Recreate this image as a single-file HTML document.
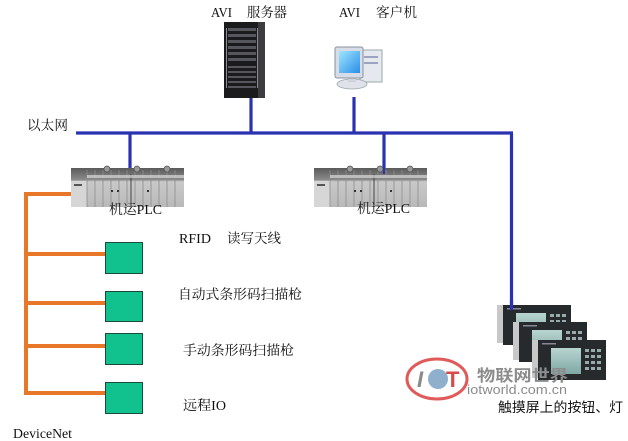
<!DOCTYPE html>
<html><head><meta charset="utf-8"><style>
html,body{margin:0;padding:0;background:#fff;}
svg{display:block;}
.t{font-family:"Liberation Serif","Noto Serif CJK SC",serif;font-size:13.5px;fill:#111;}
.s{font-family:"Liberation Sans","Noto Sans CJK SC",sans-serif;font-size:13.5px;fill:#111;}
</style></head><body>
<svg width="628" height="441" viewBox="0 0 628 441" xmlns="http://www.w3.org/2000/svg">
<defs>
<linearGradient id="plcg" x1="0" y1="0" x2="0" y2="1">
<stop offset="0" stop-color="#5a5a5a"/><stop offset="0.3" stop-color="#8a8a8a"/><stop offset="0.35" stop-color="#c9c9c9"/><stop offset="1" stop-color="#b9b9b9"/>
</linearGradient>
<linearGradient id="scr" x1="0" y1="0" x2="1" y2="1">
<stop offset="0" stop-color="#9fe6ff"/><stop offset="1" stop-color="#2a8ee8"/>
</linearGradient>
<linearGradient id="hmi" x1="0" y1="0" x2="0" y2="1">
<stop offset="0" stop-color="#b8d4d0"/><stop offset="1" stop-color="#7fa8a4"/>
</linearGradient>
<g id="plc">
<rect x="0" y="0" width="113" height="39" fill="url(#plcg)"/>
<rect x="0" y="13" width="16" height="26" fill="#d6d6d6"/>
<g stroke="#8d8d8d" stroke-width="0.8">
<line x1="16" y1="2" x2="16" y2="39"/><line x1="24" y1="2" x2="24" y2="39"/><line x1="32" y1="2" x2="32" y2="39"/>
<line x1="40" y1="2" x2="40" y2="39"/><line x1="48" y1="2" x2="48" y2="39"/><line x1="56" y1="2" x2="56" y2="39"/>
<line x1="64" y1="2" x2="64" y2="39"/><line x1="72" y1="2" x2="72" y2="39"/><line x1="80" y1="2" x2="80" y2="39"/>
<line x1="88" y1="2" x2="88" y2="39"/><line x1="96" y1="2" x2="96" y2="39"/><line x1="104" y1="2" x2="104" y2="39"/>
</g>
<line x1="60" y1="6" x2="60" y2="39" stroke="#444" stroke-width="1"/>
<rect x="16" y="7" width="97" height="3" fill="#e8e8e8" opacity="0.6"/>
<circle cx="36" cy="1" r="3" fill="#999" stroke="#555" stroke-width="0.8"/>
<circle cx="66" cy="1" r="3" fill="#999" stroke="#555" stroke-width="0.8"/>
<circle cx="96" cy="1" r="3" fill="#999" stroke="#555" stroke-width="0.8"/>
<rect x="40" y="22" width="2" height="2" fill="#333"/><rect x="46" y="22" width="2" height="2" fill="#333"/><rect x="76" y="22" width="2" height="2" fill="#333"/>
<rect x="3" y="16" width="8" height="2" fill="#555"/>
</g>
<g id="panel">
<rect x="0" y="0" width="6" height="38" fill="#c8c8c8"/>
<rect x="6" y="0" width="68" height="40" fill="#262a2c"/>
<rect x="19" y="8" width="30" height="26" fill="url(#hmi)"/>
<g fill="#9aa">
<rect x="53" y="9" width="4" height="3"/><rect x="59" y="9" width="4" height="3"/><rect x="65" y="9" width="4" height="3"/>
<rect x="53" y="15" width="4" height="3"/><rect x="59" y="15" width="4" height="3"/><rect x="65" y="15" width="4" height="3"/>
<rect x="53" y="21" width="4" height="3"/><rect x="59" y="21" width="4" height="3"/><rect x="65" y="21" width="4" height="3"/>
<rect x="53" y="27" width="4" height="3"/><rect x="59" y="27" width="4" height="3"/><rect x="65" y="27" width="4" height="3"/>
</g>
<rect x="10" y="3" width="14" height="1.5" fill="#889"/>
</g>
</defs>

<!-- Ethernet -->
<g stroke="#2b32b2" stroke-width="3.2" fill="none">
<line x1="76" y1="133" x2="513" y2="133"/>
<line x1="511.5" y1="133" x2="511.5" y2="308"/>
<line x1="251" y1="98" x2="251" y2="133"/>
<line x1="354" y1="97" x2="354" y2="133"/>
<line x1="130" y1="133" x2="130" y2="170"/>
<line x1="384" y1="133" x2="384" y2="170"/>
</g>

<!-- Server -->
<rect x="224" y="22" width="41" height="76" fill="#1b1b1d"/>
<rect x="258" y="22" width="7" height="76" fill="#3c3c40"/>
<g fill="#55575c">
<rect x="228" y="28" width="28" height="3"/><rect x="228" y="34" width="28" height="3"/><rect x="228" y="40" width="28" height="3"/>
<rect x="228" y="46" width="28" height="3"/><rect x="228" y="52" width="28" height="3"/><rect x="228" y="58" width="28" height="3"/>
<rect x="228" y="66" width="28" height="2"/><rect x="228" y="71" width="28" height="2"/><rect x="228" y="76" width="28" height="2"/>
<rect x="228" y="81" width="28" height="2"/><rect x="228" y="86" width="28" height="2"/>
</g>
<g fill="#8a8d92">
<rect x="226" y="28" width="1" height="60"/><rect x="257" y="28" width="1" height="60"/>
</g>

<!-- PC -->
<rect x="360" y="50" width="22" height="32" fill="#e6e8f0" stroke="#9aa" stroke-width="1"/>
<rect x="364" y="56" width="14" height="2" fill="#9aa3c0"/><rect x="364" y="62" width="14" height="2" fill="#9aa3c0"/>
<ellipse cx="352" cy="84" rx="15" ry="5" fill="#dfe2ea" stroke="#9aa" stroke-width="0.8"/>
<rect x="348" y="76" width="8" height="6" fill="#cfd3dc"/>
<rect x="335" y="47" width="28" height="31" rx="2" fill="#d8dce6" stroke="#8a90a0" stroke-width="1"/>
<rect x="339" y="51" width="21" height="22" fill="url(#scr)"/>

<!-- PLCs -->
<use href="#plc" x="71" y="168"/>
<use href="#plc" x="314" y="168"/>
<line x1="384" y1="133" x2="384" y2="174" stroke="#2b32b2" stroke-width="2"/>

<!-- DeviceNet -->
<g stroke="#e8772a" stroke-width="4" fill="none" stroke-linecap="butt">
<polyline points="71,194 26,194 26,395"/>
<line x1="26" y1="254" x2="106" y2="254"/>
<line x1="26" y1="303" x2="106" y2="303"/>
<line x1="26" y1="346" x2="106" y2="346"/>
<line x1="26" y1="393" x2="106" y2="393"/>
</g>
<g fill="#12c28e" stroke="#1a4a3a" stroke-width="1">
<rect x="105.5" y="242.5" width="37" height="31"/>
<rect x="105.5" y="291.5" width="37" height="30"/>
<rect x="105.5" y="333.5" width="37" height="31"/>
<rect x="105.5" y="382.5" width="37" height="31"/>
</g>

<!-- HMI panels -->
<use href="#panel" x="497" y="305"/>
<use href="#panel" x="513" y="322"/>
<use href="#panel" x="532" y="340"/>
<line x1="511.5" y1="300" x2="511.5" y2="310" stroke="#2b32b2" stroke-width="3.2"/>

<!-- watermark logo -->
<ellipse cx="437" cy="379" rx="30" ry="20" fill="none" stroke="#e05a5a" stroke-width="3"/>
<text x="417" y="387" font-family="Liberation Sans,sans-serif" font-size="22" font-weight="bold" fill="#8a8a8a" font-style="italic">I</text>
<circle cx="438" cy="379" r="10" fill="#8fb0cc"/>
<text x="446" y="387" font-family="Liberation Sans,sans-serif" font-size="22" font-weight="bold" fill="#d84a4a">T</text>
<text x="477" y="381" font-family="Liberation Sans,'Noto Sans CJK SC',sans-serif" font-size="16" font-weight="bold" fill="#8c8c8c" textLength="91" lengthAdjust="spacingAndGlyphs">物联网世界</text>
<text x="467" y="394" font-family="Liberation Sans,sans-serif" font-size="13" fill="#8c8c8c" textLength="100" lengthAdjust="spacingAndGlyphs">iotworld.com.cn</text>

<!-- Labels -->
<text class="t" x="211" y="17" textLength="21" lengthAdjust="spacingAndGlyphs">AVI</text>
<text class="t" x="247" y="17" textLength="40" lengthAdjust="spacingAndGlyphs">服务器</text>
<text class="t" x="339" y="17" textLength="21" lengthAdjust="spacingAndGlyphs">AVI</text>
<text class="t" x="376" y="17" textLength="41" lengthAdjust="spacingAndGlyphs">客户机</text>
<text class="t" x="27" y="130" textLength="41" lengthAdjust="spacingAndGlyphs">以太网</text>
<text class="t" x="109" y="214" textLength="53" lengthAdjust="spacingAndGlyphs">机运PLC</text>
<text class="t" x="357" y="213" textLength="53" lengthAdjust="spacingAndGlyphs">机运PLC</text>
<text class="t" x="179" y="243" textLength="32" lengthAdjust="spacingAndGlyphs">RFID</text>
<text class="t" x="227" y="243" textLength="54" lengthAdjust="spacingAndGlyphs">读写天线</text>
<text class="t" x="178" y="299" textLength="124" lengthAdjust="spacingAndGlyphs">自动式条形码扫描枪</text>
<text class="t" x="183" y="355" textLength="111" lengthAdjust="spacingAndGlyphs">手动条形码扫描枪</text>
<text class="t" x="183" y="410" textLength="43" lengthAdjust="spacingAndGlyphs">远程IO</text>
<text class="t" x="13" y="438" textLength="59" lengthAdjust="spacingAndGlyphs">DeviceNet</text>
<text class="s" x="498" y="412" textLength="125" lengthAdjust="spacingAndGlyphs">触摸屏上的按钮、灯</text>
</svg>
</body></html>
